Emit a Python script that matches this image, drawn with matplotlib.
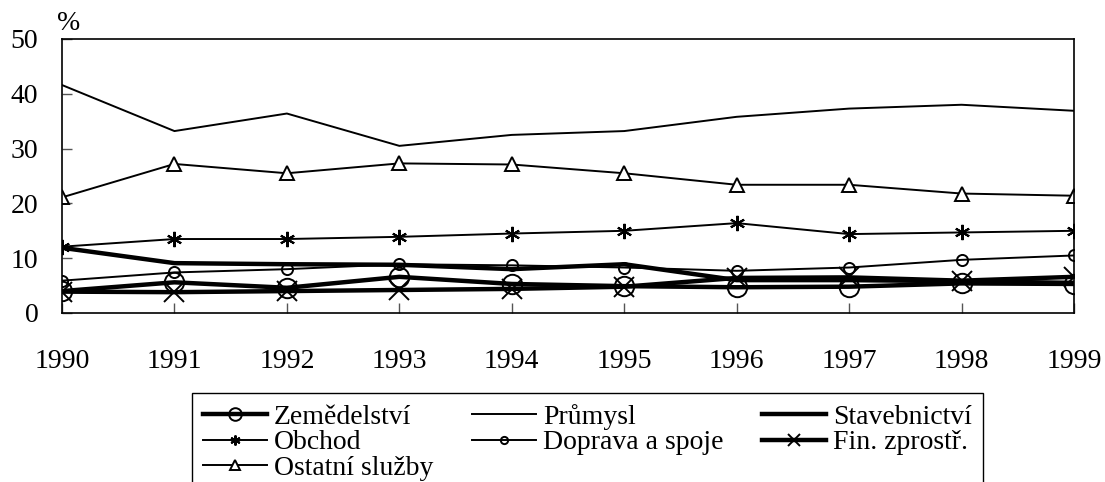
import matplotlib
matplotlib.use("Agg")
import matplotlib.pyplot as plt

plt.rcParams['font.family'] = ['Liberation Serif', 'DejaVu Serif']

years = [1990, 1991, 1992, 1993, 1994, 1995, 1996, 1997, 1998, 1999]
zemedelstvi = [4.0, 5.6, 4.6, 6.6, 5.3, 4.9, 4.7, 4.8, 5.4, 5.3]
prumysl = [41.6, 33.2, 36.4, 30.5, 32.5, 33.2, 35.8, 37.3, 38.0, 36.9]
stavebnictvi = [11.9, 9.1, 8.9, 8.8, 8.0, 8.9, 6.0, 6.0, 5.8, 5.5]
obchod = [12.1, 13.5, 13.5, 13.9, 14.5, 15.0, 16.4, 14.4, 14.7, 15.0]
doprava = [5.9, 7.4, 8.0, 8.9, 8.7, 8.3, 7.7, 8.3, 9.7, 10.5]
fin = [3.9, 3.8, 4.0, 4.2, 4.4, 4.8, 6.4, 6.5, 5.9, 6.6]
ostatni = [21.1, 27.2, 25.5, 27.3, 27.1, 25.5, 23.4, 23.4, 21.8, 21.4]
labels = ['Zemědelství', 'Průmysl', 'Stavebnictví', 'Obchod',
          'Doprava a spoje', 'Fin. zprostř.', 'Ostatní služby']
yticks = [0, 10, 20, 30, 40, 50]

fig = plt.figure(figsize=(11.05, 4.82), dpi=100)
ax = fig.add_axes([62/1105, 1-313/482, (1074-62)/1105, (313-39)/482])

thin = 1.4
thick = 3.2
h_zem, = ax.plot(years, zemedelstvi, color='black', lw=thick, marker='o', ms=14,
                 mfc='none', mec='black', mew=1.4, label=labels[0])
h_pru, = ax.plot(years, prumysl, color='black', lw=thin, label=labels[1])
h_sta, = ax.plot(years, stavebnictvi, color='black', lw=thick, label=labels[2])
h_obc, = ax.plot(years, obchod, color='black', lw=thin, marker=(6, 2, 0), ms=11,
                 mec='black', mew=1.5, label=labels[3])
h_dop, = ax.plot(years, doprava, color='black', lw=thin, marker='o', ms=8,
                 mfc='none', mec='black', mew=1.4, label=labels[4])
h_fin, = ax.plot(years, fin, color='black', lw=thick, marker='x', ms=14,
                 mec='black', mew=1.4, label=labels[5])
h_ost, = ax.plot(years, ostatni, color='black', lw=thin, marker='^', ms=10,
                 mfc='white', mec='black', mew=1.4, label=labels[6])

ax.set_xlim(1990, 1999)
ax.set_ylim(0, 50)
ax.set_xticks(years)
ax.set_yticks(yticks)
ax.tick_params(axis='both', direction='in', length=7, width=1.0, labelsize=20,
               color='#555555')
ax.tick_params(axis='y', pad=17)
ax.tick_params(axis='x', pad=26)
for s in ax.spines.values():
    s.set_linewidth(1.2)
    s.set_color('black')

fig.text(69/1105, 1-24/482, '%', fontsize=20, ha='center', va='center')

handles = [h_zem, h_obc, h_ost, h_pru, h_dop, h_sta, h_fin]
leg = fig.legend(handles=handles, labels=[h.get_label() for h in handles],
                 loc='upper left', bbox_to_anchor=(192/1105, 1-393/482),
                 ncol=3, fontsize=20, frameon=True, fancybox=False,
                 edgecolor='black', framealpha=1, markerscale=0.65,
                 handlelength=2.3, handletextpad=0.25, columnspacing=1.4,
                 labelspacing=0.0, borderpad=0.4, borderaxespad=0)
leg.get_frame().set_linewidth(1.0)

fig.savefig('out.png', dpi=100)
